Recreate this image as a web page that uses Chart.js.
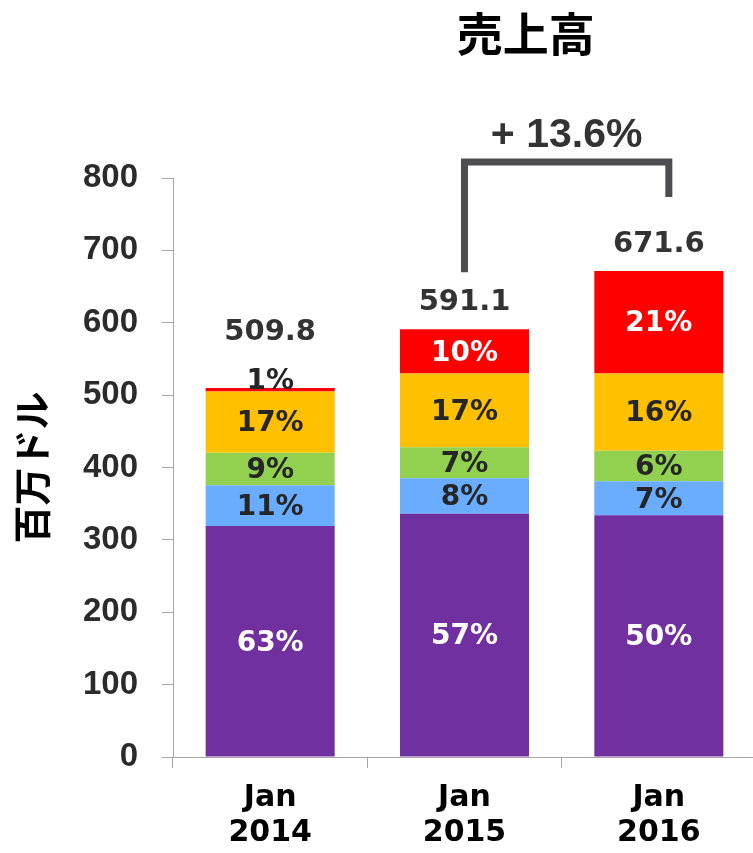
<!DOCTYPE html>
<html>
<head>
<meta charset="utf-8">
<script src="https://cdn.jsdelivr.net/npm/chart.js@4/dist/chart.umd.min.js"></script>
<style>
  html, body { margin: 0; padding: 0; background: #fff; overflow: hidden; }
  #wrap { width: 756px; height: 853px; }
</style>
</head>
<body>
<div id="wrap"><canvas id="c"></canvas></div>
<script>
// Sales (USD millions) by segment, stacked bottom to top
const categories = [['Jan', '2014'], ['Jan', '2015'], ['Jan', '2016']];
const purpleSeg = [319, 336, 334];
const blueSeg   = [56.5, 49, 47];
const greenSeg  = [45, 43, 42];
const orangeSeg = [84.5, 102, 107];
const redSeg    = [4.8, 61.1, 141.6];
const yTickValues = [0, 100, 200, 300, 400, 500, 600, 700, 800];

const chartTitle = '売上高';
const yAxisTitle = '百万ドル';

const segments = [
  { data: purpleSeg, color: '#7030A0', text: '#ffffff' },
  { data: blueSeg,   color: '#6AADFF', text: '#262626' },
  { data: greenSeg,  color: '#92D050', text: '#262626' },
  { data: orangeSeg, color: '#FFC000', text: '#262626' },
  { data: redSeg,    color: '#FF0000', text: '#ffffff' }
];

const totals = categories.map((_, j) => segments.reduce((s, seg) => s + seg.data[j], 0));

const AXIS_GREY = '#a6a6a6';

const labelPlugin = {
  id: 'segmentLabels',
  afterDatasetsDraw(chart) {
    const ctx = chart.ctx;
    const ys = chart.scales.y;
    ctx.save();
    ctx.textAlign = 'center';

    const topMeta = chart.getDatasetMeta(segments.length - 1);
    const outside = categories.map(() => false);

    // percentage share inside each segment
    segments.forEach((seg, i) => {
      const meta = chart.getDatasetMeta(i);
      meta.data.forEach((el, j) => {
        const pct = Math.round(seg.data[j] / totals[j] * 100) + '%';
        const h = el.base - el.y;
        ctx.font = 'bold 28px "DejaVu Sans"';
        if (h >= 24) {
          ctx.fillStyle = seg.text;
          ctx.textBaseline = 'middle';
          ctx.fillText(pct, el.x, (el.y + el.base) / 2 + 2);
        } else {
          ctx.fillStyle = '#262626';
          ctx.textBaseline = 'alphabetic';
          ctx.fillText(pct, el.x, topMeta.data[j].y + 1);
          outside[j] = true;
        }
      });
    });

    // totals above each bar
    ctx.font = 'bold 29px "DejaVu Sans"';
    ctx.fillStyle = '#333333';
    ctx.textBaseline = 'alphabetic';
    topMeta.data.forEach((el, j) => {
      const yb = el.y - 19 - (outside[j] ? 29 : 0);
      ctx.fillText(totals[j].toFixed(1), el.x, yb);
    });

    // growth bracket between the last two years
    const a = topMeta.data[1], b = topMeta.data[2];
    const yTop = ys.getPixelForValue(800) - 16;
    const xL = a.x, xR = b.x + 10;
    ctx.strokeStyle = '#4d4d52';
    ctx.lineWidth = 7;
    ctx.lineJoin = 'miter';
    ctx.lineCap = 'butt';
    ctx.beginPath();
    ctx.moveTo(xL, a.y - 57);
    ctx.lineTo(xL, yTop);
    ctx.lineTo(xR, yTop);
    ctx.lineTo(xR, b.y - 74);
    ctx.stroke();

    const growth = (totals[2] / totals[1] - 1) * 100;
    ctx.font = 'bold 41px "Liberation Sans"';
    ctx.fillStyle = '#333333';
    ctx.fillText('+ ' + growth.toFixed(1) + '%', (xL + xR) / 2, yTop - 15);

    // chart title
    const area = chart.chartArea;
    ctx.font = 'bold 46px "Noto Sans CJK JP"';
    ctx.fillStyle = '#000000';
    ctx.textBaseline = 'middle';
    ctx.fillText(chartTitle, area.left + area.width * 0.605, 34);

    ctx.restore();
  }
};

new Chart(document.getElementById('c'), {
  type: 'bar',
  data: {
    labels: categories,
    datasets: segments.map(seg => ({
      data: seg.data,
      backgroundColor: seg.color,
      borderWidth: 0,
      categoryPercentage: 1,
      barPercentage: 0.664
    }))
  },
  options: {
    responsive: true,
    maintainAspectRatio: false,
    animation: false,
    layout: { padding: { top: 178, right: 0, bottom: 0, left: 0 } },
    plugins: {
      legend: { display: false },
      tooltip: { enabled: false },
      title: { display: false }
    },
    scales: {
      x: {
        stacked: true,
        grid: { display: true, drawOnChartArea: false, tickLength: 11, color: AXIS_GREY, offset: true },
        border: { color: AXIS_GREY, width: 1 },
        ticks: {
          font: { family: 'DejaVu Sans', weight: 'bold', size: 30, lineHeight: 1.15 },
          color: '#000000',
          padding: 13,
          maxRotation: 0
        },
        afterFit: s => { s.height = 96; }
      },
      y: {
        stacked: true,
        min: 0,
        max: 800,
        afterBuildTicks: s => { s.ticks = yTickValues.map(v => ({ value: v })); },
        ticks: {
          font: { family: 'Liberation Sans', weight: 'bold', size: 33 },
          color: '#2b2b2b',
          padding: 24
        },
        grid: { drawOnChartArea: false, tickLength: 11, color: AXIS_GREY },
        border: { color: AXIS_GREY, width: 1 },
        title: {
          display: true,
          text: yAxisTitle,
          font: { family: 'Noto Sans CJK JP', weight: 'bold', size: 38 },
          color: '#000000',
          padding: { top: 9, bottom: 0 }
        },
        afterFit: s => { s.width = 173; }
      }
    }
  },
  plugins: [labelPlugin]
});
</script>
</body>
</html>
